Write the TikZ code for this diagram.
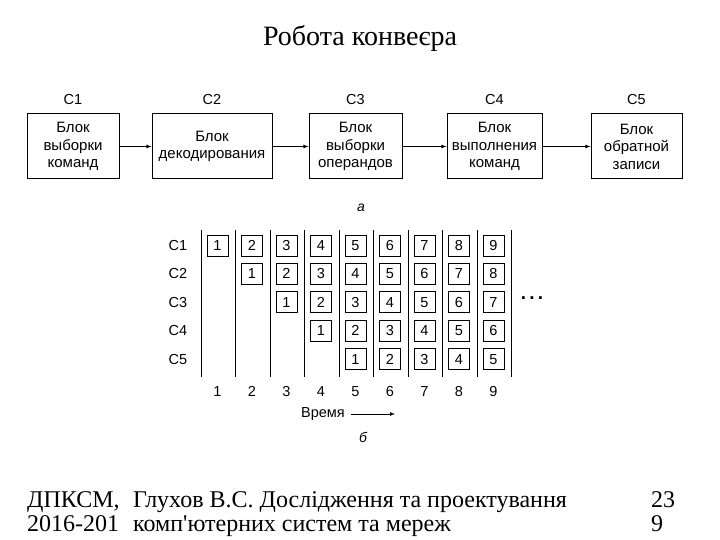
\documentclass[tikz,border=0pt]{standalone}
\usepackage{fontspec}
\setmainfont{Liberation Serif}
\setsansfont{Liberation Sans}
\usetikzlibrary{arrows}

\begin{document}
\begin{tikzpicture}[x=1pt,y=-1pt,>=latex,
	blok/.style={draw, line width=1pt, minimum height=65pt, align=center, inner sep=2pt,
		font=\sffamily\fontsize{15}{17.5}\selectfont},
	kom/.style={draw, line width=0.9pt, minimum size=21pt, inner sep=0pt,
		font=\sffamily\fontsize{14.5}{14.5}\selectfont},
	napis/.style={font=\sffamily\fontsize{14.5}{14.5}\selectfont},
	stopka/.style={anchor=base west, inner sep=0pt, font=\fontsize{24}{24}\selectfont}]
	\useasboundingbox (0,0) rectangle (720,540);
	%Titolo
	\node [anchor=base, inner sep=0pt] (titolo) at (360,46) {\fontsize{28}{30}\selectfont Робота конвеєра};
	%Blocchi
	\node [blok, minimum width=92pt] (b1) at (73,146.5) {Блок\\выборки\\команд};
	\node [blok, minimum width=120pt] (b2) at (212,146.5) {Блок\\декодирования};
	\node [blok, minimum width=93pt] (b3) at (355.5,146.5) {Блок\\выборки\\операндов};
	\node [blok, minimum width=95pt] (b4) at (494.5,146.5) {Блок\\выполнения\\команд};
	\node [blok, minimum width=91pt] (b5) at (636.5,146.5) {Блок\\обратной\\записи};
	\foreach \i in {1,...,5}
	{\node [napis, above=5pt] (s\i) at (b\i.north) {C\i};}
	\foreach \i/\j in {1/2,2/3,3/4,4/5}
	{\draw [->, line width=0.8pt] (b\i.east) -- (b\j.west);}
	\node [napis, font=\sffamily\itshape\fontsize{14}{14}\selectfont] (a) at (361,208) {а};
	%Tempi
	\foreach \k in {0,...,9}
	{\draw [line width=1pt] (201+34.5*\k,230) -- (201+34.5*\k,377);}
	\foreach \r in {1,...,5}
	{\node [napis] (r\r) at (178,{245.5+28.4*(\r-1)}) {C\r};}
	\foreach \c in {1,...,9}
	{\node [napis, anchor=base] (t\c) at ({217.5+34.5*(\c-1)},396) {\c};}
	\foreach \c in {1,...,9}
	{\foreach \r in {1,...,5}
	{\pgfmathtruncatemacro\n{\c-\r+1}
	\ifnum\n>0 \node [kom] (k\r\c) at ({217.5+34.5*(\c-1)},{245.5+28.4*(\r-1)}) {\n};\fi}}
	\node [font=\sffamily\bfseries\fontsize{19}{19}\selectfont] (punti) at (532,298) {.\,.\,.};
	%Asse
	\node [napis] (tempo) at (323,414) {Время};
	\coordinate (freccia) at (395,414);
	\draw [->, line width=0.7pt] (tempo.east) ++(3,0) -- (freccia);
	\node [napis, font=\sffamily\itshape\fontsize{14}{14}\selectfont] (b) at (363,437) {б};
	%Stopka
	\node [stopka] (p1) at (27,507) {ДПКСМ,};
	\node [stopka] (p2) at (133,507) {Глухов В.С. Дослідження та проектування};
	\node [stopka] (p3) at (651,507) {23};
	\node [stopka] (q1) at (27,531) {2016-201};
	\node [stopka] (q2) at (133,531) {комп\textquotesingle ютерних систем та мереж};
	\node [stopka] (q3) at (651,531) {9};
\end{tikzpicture}
\end{document}
